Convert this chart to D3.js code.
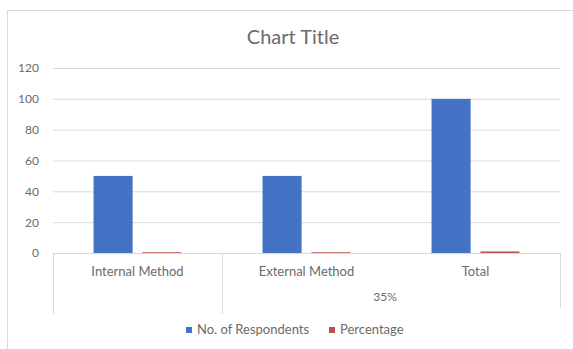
<!DOCTYPE html>
<html><head><meta charset="utf-8">
<script src="https://cdn.jsdelivr.net/npm/d3@7"></script>
<style>body{margin:0;background:#fff;} svg{display:block;}</style>
</head><body>
<svg id="c" width="573" height="349"></svg>
<script>
const categories = ["Internal Method", "External Method", "Total"];
const series = ["No. of Respondents", "Percentage"];
const respondents = [50, 50, 100];
const percentage = [0.5, 0.5, 1];
const groupLabels = [{label: "", from: 0, to: 0}, {label: "35%", from: 1, to: 2}];
const yTicks = [0, 20, 40, 60, 80, 100, 120];
const colors = ["#4472c4", "#c0504d"];

(function () {
const svg = d3.select("#c");
const font = "Lato, 'Open Sans', sans-serif";
const txt = "#6b6b6b";

svg.append("rect").attr("x", 7.5).attr("y", 10.5).attr("width", 570).attr("height", 345)
  .attr("fill", "#fff").attr("stroke", "#d9d9d9");

const pLeft = 53, pRight = 560, pTop = 68, pBottom = 253;
const y = d3.scaleLinear().domain([0, 120]).range([pBottom, pTop]);
const x0 = d3.scaleBand().domain(categories).range([pLeft, pRight]).paddingInner(0).paddingOuter(0);
const x1 = d3.scaleBand().domain(series).range([0, x0.bandwidth()]).paddingInner(0.2).paddingOuter(0.83);

svg.append("text").attr("x", 293).attr("y", 44).attr("text-anchor", "middle")
  .attr("font-family", font).attr("font-size", 20).attr("fill", txt).text("Chart Title");

const yAxis = svg.append("g").attr("transform", `translate(${pLeft},0)`)
  .call(d3.axisLeft(y).tickValues(yTicks).tickSize(-(pRight - pLeft)).tickPadding(14));
yAxis.select(".domain").remove();
yAxis.selectAll("line").attr("stroke", "#d9d9d9");
yAxis.selectAll("text").attr("font-family", font).attr("font-size", 12).attr("fill", txt);

const data = categories.map((c, i) => ({c, vals: [respondents[i], percentage[i]]}));
const g = svg.append("g");
data.forEach(d => {
  d.vals.forEach((v, j) => {
    g.append("rect").attr("x", x0(d.c) + x1(series[j])).attr("width", x1.bandwidth())
      .attr("y", y(v)).attr("height", Math.max(0, y(0) - y(v))).attr("fill", colors[j]);
  });
});

const ax = svg.append("g").attr("stroke", "#d9d9d9").attr("fill", "none");
ax.append("line").attr("x1", pLeft).attr("x2", pRight).attr("y1", pBottom + 0.5).attr("y2", pBottom + 0.5);
const boundaries = [pLeft, x0(categories[1]), pRight];
boundaries.forEach((bx, i) => {
  ax.append("line").attr("x1", Math.round(bx) + 0.5).attr("x2", Math.round(bx) + 0.5)
    .attr("y1", pBottom).attr("y2", i === 2 ? 308 : 314);
});
svg.append("g").selectAll("text").data(categories).join("text")
  .attr("x", d => x0(d) + x0.bandwidth() / 2).attr("y", 276).attr("text-anchor", "middle")
  .attr("font-family", font).attr("font-size", 13).attr("fill", txt).text(d => d);
svg.append("g").selectAll("text").data(groupLabels).join("text")
  .attr("x", d => (x0(categories[d.from]) + x0(categories[d.to]) + x0.bandwidth()) / 2 - 6)
  .attr("y", 301).attr("text-anchor", "middle")
  .attr("font-family", font).attr("font-size", 12).attr("fill", txt).text(d => d.label);

const legX = [186, 329];
const leg = svg.append("g");
series.forEach((s, i) => {
  leg.append("rect").attr("x", legX[i]).attr("y", 327).attr("width", 6).attr("height", 6).attr("fill", colors[i]);
  leg.append("text").attr("x", legX[i] + 11).attr("y", 334).attr("font-family", font)
    .attr("font-size", 13).attr("fill", txt).text(s);
});
})();
</script>
</body></html>
